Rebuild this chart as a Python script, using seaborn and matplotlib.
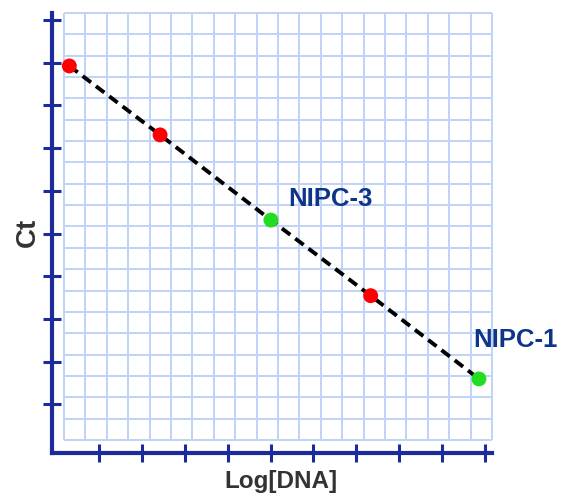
import numpy as np
import pandas as pd
import matplotlib
matplotlib.use('Agg')
import matplotlib.pyplot as plt
import seaborn as sns

# standard curve: log[DNA] vs Ct (arbitrary grid units, no tick labels)
log_dna = [0.25, 4.49, 9.67, 14.33, 19.39]
ct = [17.52, 14.29, 10.30, 6.76, 2.86]
kind = ['standard', 'standard', 'sample', 'standard', 'sample']
point_labels = ['', '', 'NIPC-3', '', 'NIPC-1']

df = pd.DataFrame({'log_dna': log_dna, 'ct': ct, 'kind': kind})

sns.set_style('white')
plt.rcParams['font.family'] = ['Liberation Sans Narrow', 'Liberation Sans', 'DejaVu Sans']

axis_blue = '#1c2b9c'
grid_blue = '#c0d2f7'
label_blue = '#0d3589'

fig = plt.figure(figsize=(5.61, 4.93), dpi=100)
ax = fig.add_axes([52 / 561, 40 / 493, 440 / 561, 440 / 493])
ax.set_xlim(-0.56, 20)
ax.set_ylim(-0.61, 20)

# graph-paper grid
ax.vlines(np.arange(0, 21), 0, 20, color=grid_blue, lw=1.4, zorder=0, clip_on=False)
ax.hlines(np.arange(0, 21), 0, 20, color=grid_blue, lw=1.4, zorder=0, clip_on=False)

sns.lineplot(data=df, x='log_dna', y='ct', sort=False, estimator=None,
             color='black', lw=2.8, ax=ax, zorder=2)
ax.lines[-1].set_dashes((2.7, 1.6))
sns.scatterplot(data=df, x='log_dna', y='ct', hue='kind',
                palette={'standard': '#ff0000', 'sample': '#22dd22'},
                s=115, linewidth=0, legend=False, ax=ax, zorder=3)

offsets = {'NIPC-3': (0.8, 0.66), 'NIPC-1': (-0.28, 1.5)}
for x, y, lab in zip(log_dna, ct, point_labels):
    if lab:
        dx, dy = offsets[lab]
        ax.text(x + dx, y + dy, lab, color=label_blue, fontsize=18.5,
                fontweight='bold', ha='left', va='baseline')

for side in ['top', 'right']:
    ax.spines[side].set_visible(False)
for side in ['left', 'bottom']:
    ax.spines[side].set_color(axis_blue)
    ax.spines[side].set_linewidth(3)

ax.set_xticks(np.arange(1.65, 20, 2))
ax.set_yticks(np.arange(1.67, 20, 2))
ax.tick_params(bottom=True, left=True, direction='inout', length=13,
               width=2.2, color=axis_blue, labelbottom=False, labelleft=False)
ax.set_xlabel('')
ax.set_ylabel('')

ax.text(10.12, -2.25, 'Log[DNA]', color='#333333', fontsize=17.5,
        fontweight='bold', ha='center', va='baseline')
ax.text(-1.7, 9.74, 'Ct', color='#333333', fontsize=20, fontweight='bold',
        rotation=90, ha='center', va='center')

plt.savefig('out.png', dpi=100)
